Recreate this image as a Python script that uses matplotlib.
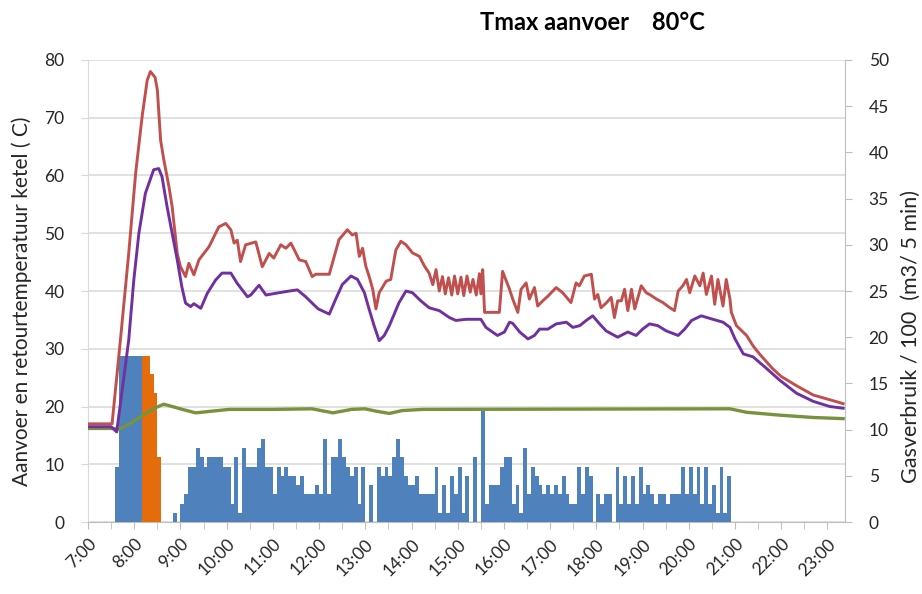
import numpy as np
import matplotlib
matplotlib.use("Agg")
import matplotlib.pyplot as plt

# gas use per 5 minutes (right axis, /100 m3), blue bars from 7:35
gas_start = 7 + 35 / 60
gas_blue = [6, 18, 18, 18, 18, 18, 18, 0, 0, 0, 0, 0, 0, 0, 0, 1, 0,
            2, 3, 6, 6, 8, 7, 6, 7, 7, 7,
            7, 6, 6, 2, 7, 1, 8, 6, 6, 6,
            8, 9, 6, 6, 3, 6, 5, 6, 5, 5,
            4, 5, 3, 3, 3, 4, 3, 9, 3, 7,
            7, 9, 7, 6, 5, 6, 2, 6, 0, 4,
            0, 6, 5, 6, 5, 7, 9, 7, 5, 4,
            4, 5, 3, 3, 3, 3, 6, 1, 4, 1,
            5, 3, 6, 1, 5, 0, 7, 0, 12, 2,
            4, 4, 4, 6, 7, 7, 2, 4, 1, 8,
            3, 6, 5, 4, 3, 4, 3, 4, 3, 5,
            3, 2, 2, 6, 3, 6, 5, 0, 3, 2,
            3, 3, 0, 6, 2, 5, 2, 5, 2, 6,
            3, 4, 3, 2, 3, 3, 2, 3, 3, 3,
            6, 3, 6, 3, 6, 2, 6, 2, 4, 1,
            6, 1, 5]
# orange bars from 8:10
orange_start = 8 + 10 / 60
gas_orange = [18, 18, 16, 14, 7]

# aanvoer temperature (red)
t_red = [7.00, 7.52, 7.70, 7.88, 8.03, 8.17, 8.28, 8.35, 8.45, 8.50, 8.57, 8.64,
         8.75, 8.82, 8.93, 9.00, 9.11, 9.18, 9.29, 9.40, 9.62, 9.83, 9.98, 10.09,
         10.16, 10.23, 10.30, 10.41, 10.63, 10.77, 10.92, 11.02, 11.17, 11.28, 11.39,
         11.57, 11.71, 11.85, 11.93, 12.22, 12.29, 12.43, 12.61, 12.72, 12.80, 12.87,
         12.94, 13.01, 13.08, 13.16, 13.23, 13.30, 13.45, 13.55, 13.66, 13.77, 13.88,
         14.02, 14.17, 14.28, 14.38, 14.46, 14.53, 14.60, 14.67, 14.73, 14.80, 14.87,
         14.93, 15.00, 15.07, 15.13, 15.20, 15.27, 15.33, 15.40, 15.47, 15.50, 15.54,
         15.58, 15.90, 15.97, 16.12, 16.19, 16.30, 16.37, 16.48, 16.55, 16.66, 16.73,
         16.84, 16.95, 17.13, 17.27, 17.45, 17.56, 17.63, 17.74, 17.89, 17.96, 18.03,
         18.10, 18.21, 18.32, 18.39, 18.46, 18.54, 18.61, 18.68, 18.76, 18.83, 18.97,
         19.08, 19.15, 19.30, 19.44, 19.59, 19.69, 19.77, 19.87, 19.95, 20.02, 20.13,
         20.24, 20.31, 20.38, 20.49, 20.56, 20.63, 20.74, 20.81, 20.89, 20.92, 21.03,
         21.25, 21.39, 21.54, 21.82, 22.00, 22.33, 22.69, 23.12, 23.34]
v_red = [17.0, 17.0, 31.5, 46.5, 60.4, 70.2, 76.5, 78.0, 77.0, 74.8, 66.1, 62.7,
         58.1, 54.6, 46.5, 44.2, 42.5, 44.8, 42.8, 45.4, 47.7, 51.1, 51.7, 50.6,
         48.3, 48.8, 45.1, 48.0, 48.5, 44.2, 46.5, 45.7, 48.0, 47.4, 48.3,
         45.4, 45.1, 42.5, 42.9, 42.9, 44.9, 48.9, 50.6, 49.7, 50.0, 46.0,
         47.4, 44.3, 42.6, 40.3, 36.9, 39.7, 41.7, 42.0, 47.1, 48.6, 48.0,
         46.6, 46.0, 44.3, 43.1, 41.1, 43.7, 40.0, 42.5, 39.5, 42.3, 39.3,
         42.6, 39.5, 42.4, 39.2, 42.6, 39.8, 42.0, 39.3, 43.0, 39.5, 43.7,
         36.3, 36.3, 43.4, 40.3, 38.6, 36.3, 40.3, 41.4, 38.6, 40.6, 37.4,
         38.3, 39.1, 40.6, 39.7, 38.0, 41.4, 40.9, 42.6, 42.9, 38.6, 39.4,
         37.1, 37.9, 38.9, 35.4, 38.3, 38.3, 40.3, 36.6, 40.3, 36.9, 40.9,
         39.7, 39.4, 38.6, 38.0, 37.1, 36.6, 40.0, 40.9, 42.0, 39.7, 42.6,
         40.9, 43.1, 39.4, 42.6, 37.7, 42.0, 37.4, 42.0, 38.6, 36.3, 34.0,
         32.3, 30.5, 29.0, 26.5, 25.2, 23.6, 22.0, 21.0, 20.5]

# retour temperature (purple)
t_purple = [7.00, 7.50, 7.62, 7.88, 7.99, 8.10, 8.24, 8.42, 8.53, 8.60, 8.71, 8.82,
            8.93, 9.03, 9.11, 9.22, 9.29, 9.44, 9.58, 9.76, 9.90, 10.09, 10.23, 10.45,
            10.52, 10.70, 10.85, 11.06, 11.28, 11.53, 11.71, 11.85, 11.98, 12.22, 12.36,
            12.50, 12.69, 12.83, 12.98, 13.08, 13.19, 13.30, 13.41, 13.52, 13.73, 13.88,
            14.02, 14.20, 14.38, 14.60, 14.82, 14.96, 15.18, 15.50, 15.61, 15.75, 15.86,
            16.01, 16.12, 16.19, 16.34, 16.52, 16.66, 16.77, 16.95, 17.13, 17.35, 17.49,
            17.64, 17.78, 17.92, 18.07, 18.21, 18.46, 18.68, 18.86, 19.00, 19.15, 19.33,
            19.51, 19.77, 19.91, 20.06, 20.27, 20.52, 20.74, 20.89, 21.00, 21.18, 21.39,
            21.68, 21.96, 22.33, 22.69, 23.05, 23.34]
v_purple = [16.5, 16.5, 15.6, 31.5, 41.9, 50.0, 56.9, 61.0, 61.2, 59.8, 54.6, 50.0,
            45.4, 40.7, 37.9, 37.3, 37.8, 37.0, 39.6, 41.9, 43.1, 43.1, 41.3, 39.0,
            39.3, 41.0, 39.3, 39.6, 39.9, 40.2, 39.0, 37.9, 36.9, 36.0, 38.6,
            41.1, 42.6, 42.0, 39.7, 36.9, 34.0, 31.4, 32.3, 34.0, 38.0, 40.0,
            39.7, 38.3, 37.1, 36.6, 35.4, 34.9, 35.1, 35.1, 33.7, 32.9, 32.3,
            32.9, 34.6, 34.4, 32.9, 31.7, 32.3, 33.4, 33.4, 34.3, 34.6, 33.7,
            34.0, 34.9, 35.7, 34.3, 33.1, 32.0, 32.9, 32.3, 33.4, 34.3, 34.0,
            33.1, 32.3, 33.4, 34.9, 35.7, 35.1, 34.6, 33.7, 31.7, 29.1, 28.6,
            26.6, 24.6, 22.3, 20.9, 20.0, 19.7]

# green line
t_green = [7.00, 7.52, 7.67, 7.88, 8.17, 8.46, 8.64, 8.82, 9.04, 9.33, 9.69, 10.05,
           11.00, 11.85, 12.30, 12.70, 12.99, 13.23, 13.52, 13.80, 14.24, 20.89, 21.25,
           21.97, 22.69, 23.34]
v_green = [16.2, 16.2, 16.1, 16.9, 18.4, 19.8, 20.4, 20.0, 19.5, 18.9, 19.2, 19.5,
           19.5, 19.6, 18.9, 19.5, 19.6, 19.2, 18.8, 19.3, 19.5, 19.6, 19.0,
           18.5, 18.1, 17.9]

hour_labels = ["%d:00" % h for h in range(7, 24)]

plt.rcParams['font.family'] = ['Lato', 'DejaVu Sans']
grey = '#bfbfbf'
txt = '#262626'

fig = plt.figure(figsize=(9.22, 5.94), dpi=100)
ax = fig.add_axes([0.0955, 0.1212, 0.8210, 0.7778])
ax2 = ax.twinx()
ax3 = ax.twinx()

xmin, xmax = 7.0, 23.38

# left axis: grid + labels
ax.set_xlim(xmin, xmax)
ax.set_ylim(0, 80)
ax.set_yticks(range(0, 81, 10))
ax.grid(axis='y', color='#d9d9d9', linewidth=1.1)
ax.set_axisbelow(True)
ax.set_xticks(range(7, 24))
ax.set_xticklabels(hour_labels, rotation=45, ha='right', rotation_mode='anchor')
ax.set_xticks(np.arange(7.5, 23.5, 1.0), minor=True)
ax.tick_params(axis='x', which='both', length=5, color=grey, labelsize=12.5,
               labelcolor=txt, pad=5)
ax.tick_params(axis='y', length=5, color='#d9d9d9', labelsize=12.5, labelcolor=txt,
               pad=12)
for s in ['top', 'right']:
    ax.spines[s].set_visible(False)
ax.spines['left'].set_color('#d9d9d9')
ax.spines['bottom'].set_color(grey)

# right axis: gas bars
blue_t = gas_start + np.arange(len(gas_blue)) * 5 / 60
orange_t = orange_start + np.arange(len(gas_orange)) * 5 / 60
ax2.bar(blue_t, gas_blue, width=5 / 60, align='edge', color='#4F81BD', linewidth=0)
ax2.bar(orange_t, gas_orange, width=5 / 60, align='edge', color='#E46C0A', linewidth=0)
ax2.set_ylim(0, 50)
ax2.set_yticks(range(0, 51, 5))
ax2.tick_params(axis='y', length=5, color=grey, labelsize=12.5, labelcolor=txt, pad=12)
for s in ['top', 'left', 'bottom']:
    ax2.spines[s].set_visible(False)
ax2.spines['right'].set_color(grey)
ax2.set_xlim(xmin, xmax)

# lines on top
ax3.plot(t_green, v_green, color='#77933C', linewidth=2.4)
ax3.plot(t_red, v_red, color='#C0504D', linewidth=2.1)
ax3.plot(t_purple, v_purple, color='#7030A0', linewidth=2.1)
ax3.set_ylim(0, 80)
ax3.set_xlim(xmin, xmax)
ax3.set_yticks([])
for s in ax3.spines.values():
    s.set_visible(False)

fig.text(0.023, 0.493, "Aanvoer en retourtemperatuur ketel ( C)", rotation=90,
         ha='center', va='center', fontsize=15, color=txt)
fig.text(0.988, 0.434, "Gasverbruik / 100  (m3/ 5 min)", rotation=90,
         ha='center', va='center', fontsize=15.5, color=txt)
fig.text(0.643, 0.962, "Tmax aanvoer    80\u00b0C", ha='center', va='center',
         fontsize=17, fontweight='bold', color='#000000')

fig.savefig("out.png", dpi=100)
